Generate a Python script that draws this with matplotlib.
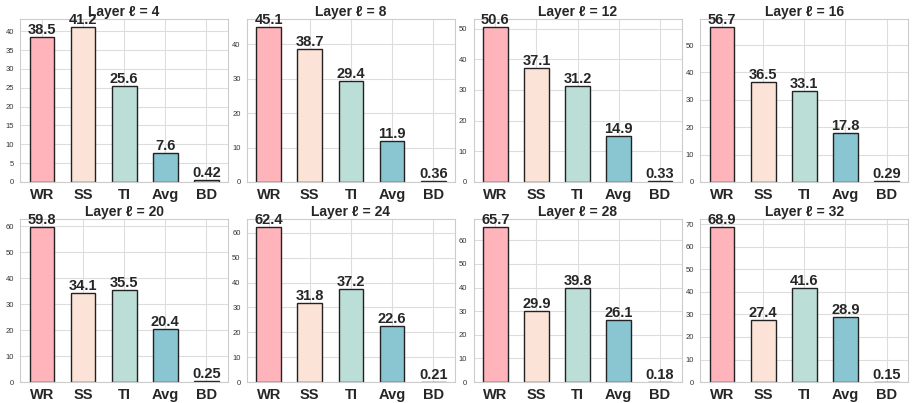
import matplotlib
matplotlib.use("Agg")
import matplotlib.pyplot as plt
import seaborn as sns

sns.set_style("whitegrid")
plt.rcParams['font.family'] = ['Liberation Sans', 'DejaVu Sans']

categories = ["WR", "SS", "TI", "Avg", "BD"]
layers = [4, 8, 12, 16, 20, 24, 28, 32]
WR = [38.5, 45.1, 50.6, 56.7, 59.8, 62.4, 65.7, 68.9]
SS = [41.2, 38.7, 37.1, 36.5, 34.1, 31.8, 29.9, 27.4]
TI = [25.6, 29.4, 31.2, 33.1, 35.5, 37.2, 39.8, 41.6]
AVG = [7.6, 11.9, 14.9, 17.8, 20.4, 22.6, 26.1, 28.9]
BD = [0.42, 0.36, 0.33, 0.29, 0.25, 0.21, 0.18, 0.15]
colors = ["#FFB3BA", "#FBE3D8", "#BBDED6", "#8AC6D1", "#A8D8EA"]

fig, axes = plt.subplots(2, 4, figsize=(9.13, 4.03), dpi=100)
fig.subplots_adjust(left=0.022, right=0.995, top=0.953, bottom=0.052,
                    wspace=0.089, hspace=0.227)

for i, ax in enumerate(axes.flat):
    vals = [WR[i], SS[i], TI[i], AVG[i], BD[i]]
    bars = ax.bar(categories, vals, width=0.6, color=colors,
                  edgecolor="#222222", linewidth=1.0)
    for b, v in zip(bars, vals):
        ax.text(b.get_x() + b.get_width() / 2, v, f"{v:g}",
                ha="center", va="bottom", fontsize=10.5, fontweight="bold",
                color="#262626")
    ax.set_title(f"Layer ℓ = {layers[i]}", fontsize=10, fontweight="bold",
                 pad=2, color="#262626")
    ax.tick_params(axis="y", labelsize=5.5, pad=1, colors="#333333")
    ax.tick_params(axis="x", labelsize=10.5, pad=1)
    for lab in ax.get_xticklabels():
        lab.set_fontweight("bold")
        lab.set_color("#262626")
    ax.grid(True, color="#dddddd", linewidth=0.8)
    ax.set_axisbelow(True)
    for s in ax.spines.values():
        s.set_color("#cccccc")
        s.set_linewidth(0.8)

fig.savefig("out.png", dpi=100)
